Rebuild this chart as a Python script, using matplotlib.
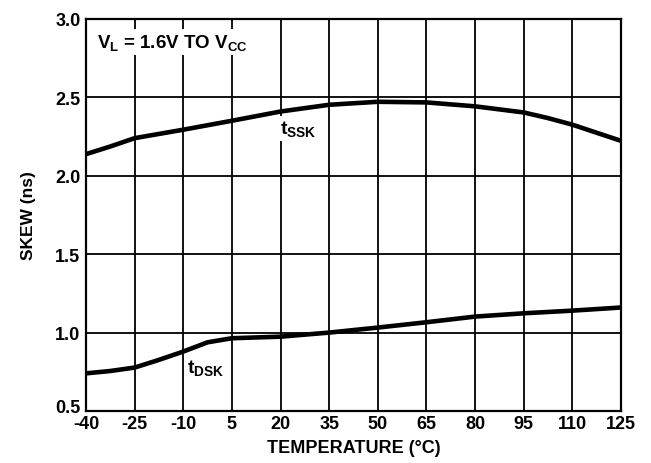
import matplotlib
matplotlib.use('Agg')
import matplotlib.pyplot as plt
import matplotlib.transforms as mtransforms

plt.rcParams['font.family'] = ['Liberation Sans', 'DejaVu Sans']
plt.rcParams['font.weight'] = 'bold'
plt.rcParams['mathtext.fontset'] = 'custom'
plt.rcParams['mathtext.rm'] = 'Liberation Sans:bold'
plt.rcParams['mathtext.it'] = 'Liberation Sans:bold'
plt.rcParams['mathtext.bf'] = 'Liberation Sans:bold'

# values
ssk_temp = [-40, -32.5, -25, -10, 5, 20, 35, 50, 65, 80, 95, 102.5, 110, 125]
t_ssk = [2.138, 2.187, 2.24, 2.294, 2.351, 2.41, 2.453, 2.472, 2.468, 2.443, 2.404, 2.368, 2.326, 2.223]

dsk_temp = [-40, -32.5, -25, -17.5, -10, -2.5, 5, 20, 35, 50, 65, 80, 95, 110, 125]
t_dsk = [0.74, 0.755, 0.777, 0.826, 0.879, 0.938, 0.964, 0.974, 1.0, 1.032, 1.066, 1.102, 1.123, 1.14, 1.16]

x_ticks = [-40, -25, -10, 5, 20, 35, 50, 65, 80, 95, 110, 125]
y_ticks = [0.5, 1.0, 1.5, 2.0, 2.5, 3.0]

fig = plt.figure(figsize=(6.51, 4.64), dpi=100)
ax = fig.add_axes([0.1321, 0.1121, 0.8218, 0.8448])

ax.plot(ssk_temp, t_ssk, color='k', lw=3.3, solid_joinstyle='round', solid_capstyle='butt', zorder=3)
ax.plot(dsk_temp, t_dsk, color='k', lw=3.3, solid_joinstyle='round', solid_capstyle='butt', zorder=3)

ax.set_xlim(-40, 125)
ax.set_ylim(0.5, 3.0)
ax.set_xticks(x_ticks)
ax.set_yticks(y_ticks)
ax.set_xticklabels([str(v) for v in x_ticks])
ax.set_yticklabels(['%.1f' % v for v in y_ticks])
ax.grid(True, color='k', lw=1.3, zorder=1)
ax.tick_params(axis='both', length=0, labelsize=13)
ax.tick_params(axis='x', pad=3)
ax.tick_params(axis='y', pad=4)
for lab in ax.get_xticklabels() + ax.get_yticklabels():
    lab.set_fontweight('bold')
for s in ax.spines.values():
    s.set_linewidth(1.6)
    s.set_zorder(4)

# lift the bottom y label a little so it clears the "-40" below it
lab0 = ax.get_yticklabels()[0]
lab0.set_transform(lab0.get_transform() + mtransforms.ScaledTranslation(0, 4 / 72, fig.dpi_scale_trans))

ax.set_xlabel('TEMPERATURE (°C)', fontsize=13, fontweight='bold', labelpad=5)
ax.set_ylabel('SKEW (ns)', fontsize=12.5, fontweight='bold', labelpad=14)

box = dict(facecolor='white', edgecolor='none', pad=2)
ax.text(-36.6, 2.82, r'V$_\mathrm{L}$ = 1.6V TO V$_\mathrm{CC}$', fontsize=13.5,
        fontweight='bold', va='baseline', ha='left', bbox=box, zorder=5)
ax.text(19.8, 2.27, r'$\mathrm{t_{SSK}}$', fontsize=14, va='baseline', ha='left', bbox=box, zorder=5)
ax.text(-9.0, 0.75, r'$\mathrm{t_{DSK}}$', fontsize=14, va='baseline', ha='left', bbox=box, zorder=5)

fig.savefig('out.png', dpi=100)
